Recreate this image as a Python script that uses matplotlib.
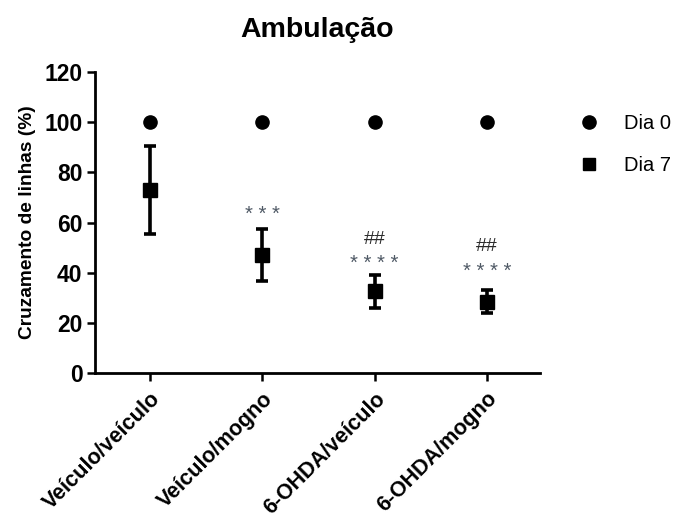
import matplotlib
matplotlib.use("Agg")
import matplotlib.pyplot as plt
from matplotlib.lines import Line2D

plt.rcParams['font.family'] = ['Liberation Sans', 'DejaVu Sans']

categories = ["Veículo/veículo", "Veículo/mogno", "6-OHDA/veículo", "6-OHDA/mogno"]
dia0 = [100, 100, 100, 100]
dia7 = [73, 47.2, 32.5, 28.5]
dia7_err = [17.5, 10.4, 6.6, 4.6]
stars = ["", "* * *", "* * * *", "* * * *"]
stars_y = [None, 64.0, 44.7, 41.5]
hashes = ["", "", "##", "##"]
hashes_y = [None, None, 54.2, 51.4]
yticks = [0, 20, 40, 60, 80, 100, 120]

fig = plt.figure(figsize=(6.85, 5.17), dpi=100)
ax = fig.add_axes([0.1387, 0.2785, 0.6493, 0.5822])

x = list(range(len(categories)))
ax.plot(x, dia0, 'o', color='black', markersize=9.5, linestyle='none')
ax.errorbar(x, dia7, yerr=dia7_err, fmt='s', color='black', markersize=9.5,
            elinewidth=2.6, capsize=4, capthick=2.6)

for xi, s, sy, h, hy in zip(x, stars, stars_y, hashes, hashes_y):
    if s:
        ax.annotate(s, (xi, sy), xytext=(0, -5.5), textcoords='offset points',
                    ha='center', va='baseline', fontsize=14.5, color='#505a66')
    if h:
        ax.annotate(h, (xi, hy), xytext=(0, -5), textcoords='offset points',
                    ha='center', va='baseline', fontsize=14, color='#2a2a2a')

ax.set_xlim(-0.49, 3.47)
ax.set_ylim(0, 120)
ax.set_yticks(yticks)
ax.set_xticks(x)
ax.set_xticklabels(categories, rotation=45, ha='right', rotation_mode='anchor',
                   fontsize=15.5, fontweight='bold')
for lab in ax.get_yticklabels():
    lab.set_fontweight('bold')
    lab.set_fontsize(16.5)
ax.spines['top'].set_visible(False)
ax.spines['right'].set_visible(False)
ax.spines['left'].set_linewidth(2)
ax.spines['bottom'].set_linewidth(2)
ax.tick_params(axis='both', direction='out', length=6, width=1.8)
ax.tick_params(axis='y', pad=3)
ax.tick_params(axis='x', pad=5)
ax.set_ylabel("Cruzamento de linhas (%)", fontsize=13.8, fontweight='bold', labelpad=6)
ax.set_title("Ambulação", fontsize=20.5, fontweight='bold', pad=25)

handles = [Line2D([], [], marker='o', color='black', linestyle='none', markersize=9.5),
           Line2D([], [], marker='s', color='black', linestyle='none', markersize=8)]
ax.legend(handles, ["Dia 0", "Dia 7"], loc='upper left', bbox_to_anchor=(1.025, 0.92),
          frameon=False, fontsize=14.5, handletextpad=0.75, labelspacing=1.15)

fig.savefig("out.png", dpi=100)
